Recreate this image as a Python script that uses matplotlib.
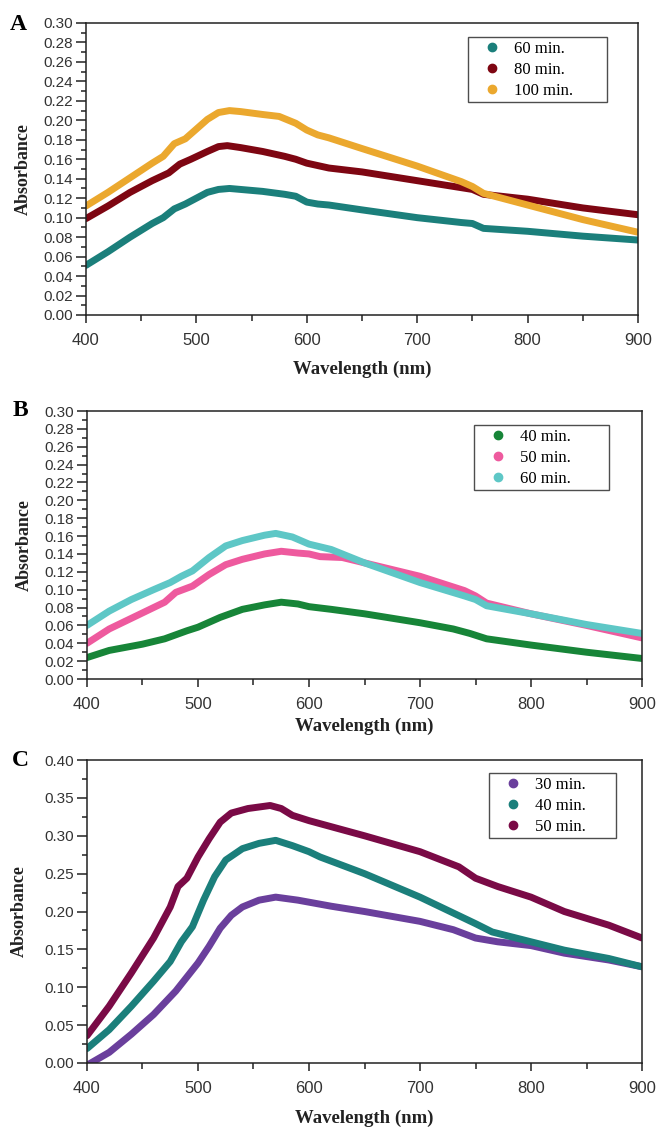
import matplotlib.pyplot as plt
from matplotlib.lines import Line2D
from matplotlib.ticker import MultipleLocator, FormatStrFormatter

# ---- panel A ----
wl_a60 = [400, 420, 440, 460, 470, 480, 490, 500, 510, 520, 530, 540, 560, 580, 590, 600, 610, 620, 650, 700, 740, 750, 760, 800, 850, 900]
abs_a60 = [0.051, 0.065, 0.080, 0.094, 0.100, 0.109, 0.114, 0.120, 0.126, 0.129, 0.130, 0.129, 0.127, 0.124, 0.122, 0.116, 0.114, 0.113, 0.108, 0.100, 0.095, 0.094, 0.089, 0.086, 0.081, 0.077]
wl_a80 = [400, 420, 440, 460, 475, 485, 495, 510, 520, 528, 540, 560, 580, 590, 600, 620, 650, 700, 750, 760, 800, 850, 900]
abs_a80 = [0.099, 0.112, 0.126, 0.138, 0.146, 0.155, 0.160, 0.168, 0.173, 0.174, 0.172, 0.168, 0.163, 0.160, 0.156, 0.151, 0.147, 0.138, 0.129, 0.124, 0.119, 0.110, 0.103]
wl_a100 = [400, 420, 440, 460, 470, 480, 490, 500, 510, 520, 530, 540, 560, 575, 590, 600, 610, 620, 650, 700, 740, 750, 760, 800, 850, 900]
abs_a100 = [0.112, 0.126, 0.141, 0.156, 0.163, 0.176, 0.181, 0.191, 0.201, 0.208, 0.210, 0.209, 0.206, 0.204, 0.197, 0.190, 0.185, 0.182, 0.171, 0.153, 0.137, 0.132, 0.125, 0.113, 0.098, 0.085]

# ---- panel B ----
wl_b40 = [400, 420, 450, 470, 490, 500, 520, 540, 560, 575, 590, 600, 620, 650, 700, 730, 745, 760, 800, 850, 900]
abs_b40 = [0.024, 0.032, 0.039, 0.045, 0.054, 0.058, 0.069, 0.078, 0.083, 0.086, 0.084, 0.081, 0.078, 0.073, 0.063, 0.056, 0.051, 0.045, 0.038, 0.030, 0.023]
wl_b50 = [400, 420, 440, 460, 470, 480, 495, 510, 525, 540, 560, 575, 590, 600, 610, 630, 650, 700, 740, 750, 760, 800, 850, 900]
abs_b50 = [0.040, 0.056, 0.068, 0.080, 0.086, 0.097, 0.104, 0.117, 0.128, 0.134, 0.140, 0.143, 0.141, 0.140, 0.137, 0.136, 0.130, 0.115, 0.099, 0.093, 0.085, 0.073, 0.060, 0.046]
wl_b60 = [400, 420, 440, 460, 475, 485, 495, 510, 525, 540, 560, 570, 585, 600, 620, 650, 700, 740, 750, 760, 800, 850, 900]
abs_b60 = [0.060, 0.076, 0.089, 0.100, 0.108, 0.115, 0.121, 0.136, 0.149, 0.155, 0.161, 0.163, 0.159, 0.151, 0.145, 0.130, 0.108, 0.093, 0.089, 0.082, 0.073, 0.061, 0.051]

# ---- panel C ----
wl_c30 = [400, 420, 440, 460, 480, 500, 510, 520, 530, 540, 555, 570, 590, 605, 620, 650, 700, 730, 750, 770, 800, 830, 870, 900]
abs_c30 = [-0.003, 0.014, 0.038, 0.064, 0.095, 0.132, 0.154, 0.178, 0.195, 0.206, 0.215, 0.219, 0.215, 0.211, 0.207, 0.200, 0.187, 0.176, 0.165, 0.160, 0.155, 0.145, 0.136, 0.127]
wl_c40 = [400, 420, 440, 460, 475, 485, 495, 505, 515, 525, 540, 555, 570, 585, 600, 610, 650, 700, 730, 750, 765, 800, 830, 870, 900]
abs_c40 = [0.019, 0.044, 0.075, 0.108, 0.134, 0.160, 0.180, 0.215, 0.246, 0.268, 0.283, 0.290, 0.294, 0.287, 0.279, 0.272, 0.250, 0.219, 0.198, 0.184, 0.173, 0.160, 0.149, 0.138, 0.127]
wl_c50 = [400, 420, 440, 460, 475, 482, 490, 500, 510, 520, 530, 545, 565, 575, 585, 600, 620, 650, 700, 735, 750, 770, 800, 830, 870, 900]
abs_c50 = [0.036, 0.075, 0.119, 0.165, 0.206, 0.233, 0.244, 0.272, 0.296, 0.318, 0.330, 0.336, 0.340, 0.336, 0.327, 0.320, 0.312, 0.300, 0.279, 0.259, 0.244, 0.233, 0.219, 0.200, 0.182, 0.165]

panels = [
    {"letter": "A", "rect": [0.131, 0.7205, 0.8416, 0.2591], "ymax": 0.30, "ystep": 0.02,
     "series": [(wl_a60, abs_a60, "#1b7f7b", "60 min."), (wl_a80, abs_a80, "#7e0612", "80 min."), (wl_a100, abs_a100, "#eba82e", "100 min.")],
     "leg": (0.692, 0.952, 0.252), "legsize": 12, "ylx": -0.098, "xly": -0.157, "lpos": (18, 25)},
    {"letter": "B", "rect": [0.1326, 0.3975, 0.8461, 0.2378], "ymax": 0.30, "ystep": 0.02,
     "series": [(wl_b40, abs_b40, "#178538", "40 min."), (wl_b50, abs_b50, "#ee5a9e", "50 min."), (wl_b60, abs_b60, "#5ec7c6", "60 min.")],
     "leg": (0.697, 0.948, 0.243), "legsize": 12, "ylx": -0.097, "xly": -0.146, "lpos": (20, 410)},
    {"letter": "C", "rect": [0.1326, 0.0568, 0.8461, 0.2688], "ymax": 0.40, "ystep": 0.05,
     "series": [(wl_c30, abs_c30, "#6a3f9c", "30 min."), (wl_c40, abs_c40, "#1b7f7b", "40 min."), (wl_c50, abs_c50, "#7a0a46", "50 min.")],
     "leg": (0.724, 0.957, 0.229), "legsize": 12, "ylx": -0.106, "xly": -0.155, "lpos": (20, 761)},
]

fig = plt.figure(figsize=(6.56, 11.27), dpi=100)

for p in panels:
    ax = fig.add_axes(p["rect"])
    handles = []
    for wl, ab, col, lab in p["series"]:
        ax.plot(wl, ab, color=col, lw=5, solid_capstyle="round", solid_joinstyle="round")
        handles.append(Line2D([], [], ls="none", marker="o", ms=6, color=col, label=lab))

    ax.set_xlim(400, 900)
    ax.set_ylim(0, p["ymax"])
    ax.xaxis.set_major_locator(MultipleLocator(100))
    ax.xaxis.set_minor_locator(MultipleLocator(50))
    ax.yaxis.set_major_locator(MultipleLocator(p["ystep"]))
    ax.yaxis.set_minor_locator(MultipleLocator(p["ystep"] / 2))
    ax.yaxis.set_major_formatter(FormatStrFormatter("%.2f"))
    ax.tick_params(axis="both", which="both", direction="out", width=1.1, colors="#222222")
    ax.tick_params(axis="y", which="major", length=7, labelsize=11, pad=2, labelcolor="#333333")
    ax.tick_params(axis="y", which="minor", length=3.5)
    ax.tick_params(axis="x", which="major", length=6, labelsize=12, pad=7, labelcolor="#333333")
    ax.tick_params(axis="x", which="minor", length=4)
    for lab in ax.get_xticklabels() + ax.get_yticklabels():
        lab.set_fontfamily("Liberation Sans")
    for s in ax.spines.values():
        s.set_linewidth(1.1)
        s.set_color("#222222")

    ax.set_xlabel("Wavelength (nm)", fontsize=13.5, fontweight="bold", family="Liberation Serif", color="#222222")
    ax.set_ylabel("Absorbance", fontsize=13, fontweight="bold", family="Liberation Serif", color="#222222")
    ax.yaxis.set_label_coords(p["ylx"], 0.5)
    ax.xaxis.set_label_coords(0.5, p["xly"])

    x0, top, w = p["leg"]
    leg = ax.legend(handles=handles, loc="upper left", bbox_to_anchor=(x0, 0.0, w, top), mode="expand",
                    borderaxespad=0, frameon=True, fancybox=False, edgecolor="#222222",
                    prop={"family": "Liberation Serif", "size": p["legsize"]},
                    handlelength=2.4, handletextpad=0.15, labelspacing=0.3, borderpad=0.22)
    leg.get_frame().set_linewidth(1.0)

    lx, ly = p["lpos"]
    fig.text(lx / 656, 1 - ly / 1127, p["letter"], fontsize=17, fontweight="bold",
             family="Liberation Serif", ha="center", va="center")

fig.savefig("out.png", dpi=100)
